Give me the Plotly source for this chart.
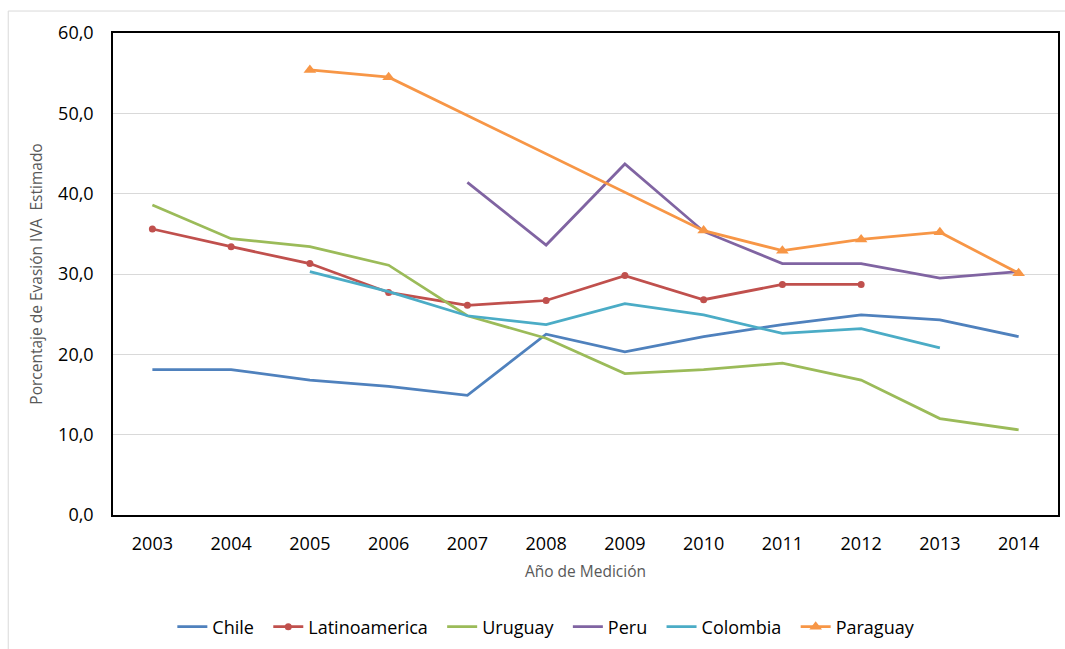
import plotly.graph_objects as go

years = ["2003", "2004", "2005", "2006", "2007", "2008", "2009", "2010", "2011", "2012", "2013", "2014"]

chile = [18.1, 18.1, 16.8, 16.0, 14.9, 22.5, 20.3, 22.2, 23.7, 24.9, 24.3, 22.2]
latinoamerica = [35.6, 33.4, 31.3, 27.7, 26.1, 26.7, 29.8, 26.8, 28.7, 28.7, None, None]
uruguay = [38.6, 34.4, 33.4, 31.1, 24.8, 22.0, 17.6, 18.1, 18.9, 16.8, 12.0, 10.6]
peru = [None, None, None, None, 41.4, 33.6, 43.7, 35.3, 31.3, 31.3, 29.5, 30.3]
colombia = [None, None, 30.3, 27.8, 24.8, 23.7, 26.3, 24.9, 22.6, 23.2, 20.8, None]
paraguay = [None, None, 55.4, 54.5, None, None, None, 35.4, 32.9, 34.3, 35.2, 30.1]

FONT = "Open Sans"
PAD = "\u00a0\u00a0"
fig = go.Figure()

def add(name, vals, color, marker=None, gaps=False, pad=PAD):
    kw = dict(mode="lines")
    if marker:
        kw["mode"] = "lines+markers"
        kw["marker"] = marker
    fig.add_trace(go.Scatter(x=years, y=vals, name=name + pad, line=dict(color=color, width=2.75),
                             connectgaps=gaps, **kw))

add("Chile", chile, "#4F81BD")
add("Latinoamerica", latinoamerica, "#C0504D", marker=dict(symbol="circle", size=7, color="#C0504D"))
add("Uruguay", uruguay, "#9BBB59")
add("Peru", peru, "#8064A2")
add("Colombia", colombia, "#4BACC6")
add("Paraguay", paraguay, "#F79646", marker=dict(symbol="triangle-up", size=11, color="#F79646"), gaps=True, pad="")

L, R, T, B = 113, 1060, 33, 515.5
W, H = 1065, 649

def px(x):
    return (x - L) / (R - L)

def py(y):
    return (B - y) / (B - T)

fig.update_layout(
    width=W, height=H,
    margin=dict(l=L, r=W - R, t=T, b=H - B),
    paper_bgcolor="white", plot_bgcolor="white",
    separators=",.",
    font=dict(family=FONT, color="#000000"),
    showlegend=True,
    legend=dict(orientation="h", xref="container", x=0.513, xanchor="center",
                yref="container", y=1 - 627 / H, yanchor="middle",
                font=dict(family=FONT, size=18, color="#000000"),
                itemwidth=30, tracegroupgap=0, bgcolor="rgba(0,0,0,0)"),
    xaxis=dict(
        type="category", range=[-0.5, 11.5],
        showgrid=False, showline=True, linecolor="#000000", linewidth=1.5, mirror=True,
        ticks="", tickfont=dict(family=FONT, size=18, color="#000000"),
        ticklabelstandoff=12,
        title=dict(text="Año de Medición", font=dict(family=FONT, size=15.5, color="#595959"), standoff=12),
    ),
    yaxis=dict(
        range=[0, 60], dtick=10, tickformat=".1f",
        showgrid=True, gridcolor="#D9D9D9", gridwidth=1,
        showline=True, linecolor="#000000", linewidth=1.5, mirror=True,
        zeroline=False, ticks="", tickfont=dict(family=FONT, size=18, color="#000000"),
        ticklabelstandoff=14,
        title=dict(text="Porcentaje de Evasión IVA  Estimado", font=dict(family=FONT, size=15.5, color="#595959"), standoff=12),
    ),
    shapes=[dict(type="rect", xref="paper", yref="paper",
                 x0=px(8), x1=px(1080), y0=py(665), y1=py(11),
                 line=dict(color="#D9D9D9", width=1), fillcolor="rgba(0,0,0,0)", layer="below")],
)

fig.write_html("out.html")
